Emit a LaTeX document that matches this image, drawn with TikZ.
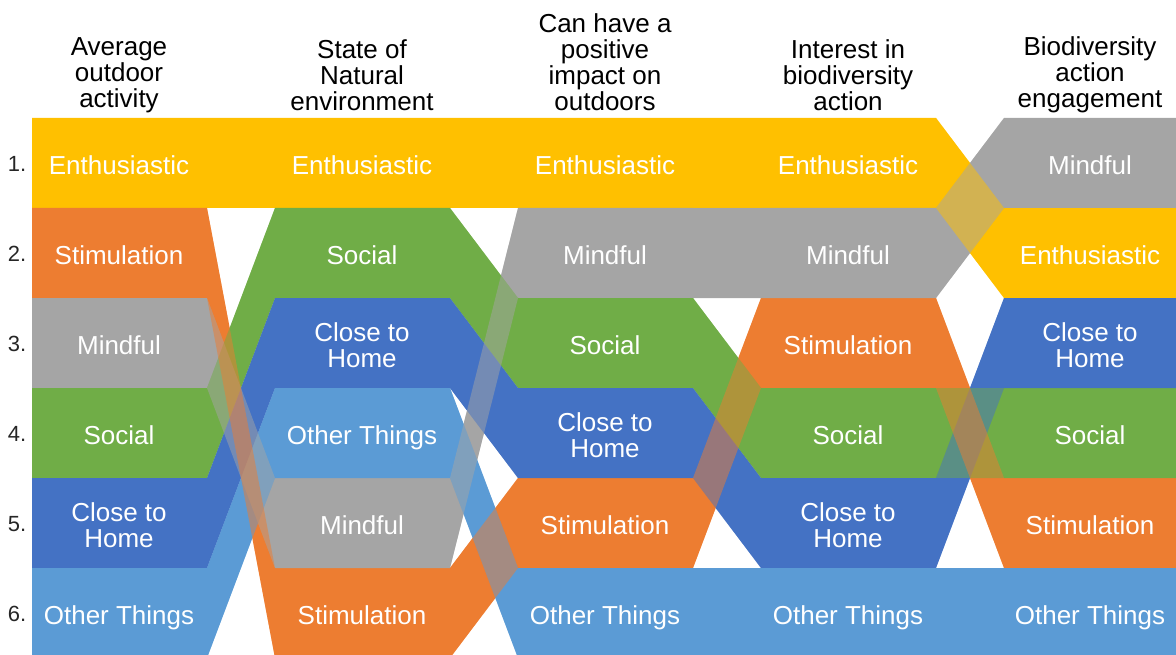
\documentclass[tikz,border=0pt]{standalone}
\usepackage{fontspec}
\setmainfont{Liberation Sans}
\usepackage{xcolor}
\usepackage{tikz}

\definecolor{enthus}{HTML}{FFC000}
\definecolor{stimul}{HTML}{ED7D31}
\definecolor{mindful}{HTML}{A5A5A5}
\definecolor{social}{HTML}{70AD47}
\definecolor{closehome}{HTML}{4472C4}
\definecolor{otherth}{HTML}{5B9BD5}

\newcommand{\labelsize}{\fontsize{14.8pt}{14.8pt}\selectfont}
\newcommand{\numsize}{\fontsize{12.5pt}{12.5pt}\selectfont}

% a ribbon: colour, then its rank in each of the five columns
\newcommand{\ribbon}[6]{%
	\fill[#1] (32,{28+90*#2}) -- (207,{28+90*#2}) -- (275,{28+90*#3}) -- (450,{28+90*#3})
	-- (518,{28+90*#4}) -- (693,{28+90*#4}) -- (761,{28+90*#5}) -- (936,{28+90*#5})
	-- (1004,{28+90*#6}) -- (1180,{28+90*#6}) -- (1180,{118+90*#6}) -- (1004,{118+90*#6})
	-- (936,{118+90*#5}) -- (761,{118+90*#5}) -- (693,{118+90*#4}) -- (518,{118+90*#4})
	-- (450,{118+90*#3}) -- (275,{118+90*#3}) -- (207,{118+90*#2}) -- (32,{118+90*#2}) -- cycle;}
% the same ribbon's slanted parts again, half see-through
\newcommand{\ribbonfade}[6]{%
	\fill[#1,fill opacity=0.5] (207,{28+90*#2}) -- (275,{28+90*#3}) -- (275,{118+90*#3}) -- (207,{118+90*#2}) -- cycle;
	\fill[#1,fill opacity=0.5] (450,{28+90*#3}) -- (518,{28+90*#4}) -- (518,{118+90*#4}) -- (450,{118+90*#3}) -- cycle;
	\fill[#1,fill opacity=0.5] (693,{28+90*#4}) -- (761,{28+90*#5}) -- (761,{118+90*#5}) -- (693,{118+90*#4}) -- cycle;
	\fill[#1,fill opacity=0.5] (936,{28+90*#5}) -- (1004,{28+90*#6}) -- (1004,{118+90*#6}) -- (936,{118+90*#5}) -- cycle;}

\begin{document}
\begin{tikzpicture}[x=0.02cm,y=-0.02cm,
	lab/.style={text=white,font=\labelsize,align=center},
	head/.style={text=black,font=\labelsize,align=center},
	num/.style={text=black!85,font=\numsize}]
		\clip (0,0) rectangle (1176,655);
		%
		% ribbons
		\ribbon{enthus}{1}{1}{1}{1}{2}
		\ribbon{stimul}{2}{6}{5}{3}{5}
		\ribbon{mindful}{3}{5}{2}{2}{1}
		\ribbon{social}{4}{2}{3}{4}{4}
		\ribbon{closehome}{5}{3}{4}{5}{3}
		\ribbon{otherth}{6}{4}{6}{6}{6}
		% crossings
		\ribbonfade{otherth}{6}{4}{6}{6}{6}
		\ribbonfade{closehome}{5}{3}{4}{5}{3}
		\ribbonfade{social}{4}{2}{3}{4}{4}
		\ribbonfade{mindful}{3}{5}{2}{2}{1}
		\ribbonfade{stimul}{2}{6}{5}{3}{5}
		\ribbonfade{enthus}{1}{1}{1}{1}{2}
		%
		% headers
		\node[head] (H1) at (119,75) {Average\\outdoor\\activity};
		\node[head] (H2) at (362,75) {State of\\Natural\\environment};
		\node[head] (H3) at (605,62) {Can have a\\positive\\impact on\\outdoors};
		\node[head] (H4) at (848,75) {Interest in\\biodiversity\\action};
		\node[head] (H5) at (1090,75) {Biodiversity\\action\\engagement};
		% ranks
		\node[num] (N1) at (17,164) {1.};
		\node[num] (N2) at (17,254) {2.};
		\node[num] (N3) at (17,344) {3.};
		\node[num] (N4) at (17,434) {4.};
		\node[num] (N5) at (17,524) {5.};
		\node[num] (N6) at (17,614) {6.};
		% first column
		\node[lab] (A1) at (119,165) {Enthusiastic};
		\node[lab] (A2) at (119,255) {Stimulation};
		\node[lab] (A3) at (119,345) {Mindful};
		\node[lab] (A4) at (119,435) {Social};
		\node[lab] (A5) at (119,525) {Close to\\Home};
		\node[lab] (A6) at (119,618) {Other Things};
		% second column
		\node[lab] (B1) at (362,165) {Enthusiastic};
		\node[lab] (B2) at (362,255) {Social};
		\node[lab] (B3) at (362,345) {Close to\\Home};
		\node[lab] (B4) at (362,438) {Other Things};
		\node[lab] (B5) at (362,525) {Mindful};
		\node[lab] (B6) at (362,615) {Stimulation};
		% third column
		\node[lab] (C1) at (605,165) {Enthusiastic};
		\node[lab] (C2) at (605,255) {Mindful};
		\node[lab] (C3) at (605,345) {Social};
		\node[lab] (C4) at (605,435) {Close to\\Home};
		\node[lab] (C5) at (605,525) {Stimulation};
		\node[lab] (C6) at (605,618) {Other Things};
		% fourth column
		\node[lab] (D1) at (848,165) {Enthusiastic};
		\node[lab] (D2) at (848,255) {Mindful};
		\node[lab] (D3) at (848,345) {Stimulation};
		\node[lab] (D4) at (848,435) {Social};
		\node[lab] (D5) at (848,525) {Close to\\Home};
		\node[lab] (D6) at (848,618) {Other Things};
		% fifth column
		\node[lab] (E1) at (1090,165) {Mindful};
		\node[lab] (E2) at (1090,255) {Enthusiastic};
		\node[lab] (E3) at (1090,345) {Close to\\Home};
		\node[lab] (E4) at (1090,435) {Social};
		\node[lab] (E5) at (1090,525) {Stimulation};
		\node[lab] (E6) at (1090,618) {Other Things};
\end{tikzpicture}
\end{document}
